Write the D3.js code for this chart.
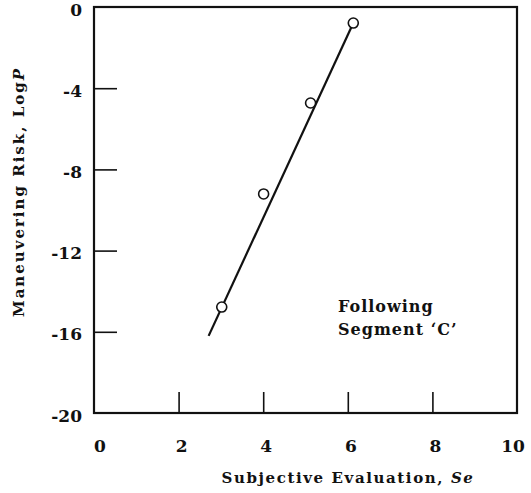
<!DOCTYPE html>
<html>
<head>
<meta charset="utf-8">
<script src="https://cdn.jsdelivr.net/npm/d3@7/dist/d3.min.js"></script>
<style>
  html, body { margin: 0; padding: 0; background: #fff; }
  svg { display: block; }
  text { font-family: "DejaVu Serif", "Liberation Serif", serif; font-weight: bold; fill: #111; }
</style>
</head>
<body>
<svg id="chart" width="531" height="493"></svg>
<script>
// Data
const seValues   = [6.13, 5.12, 4.01, 3.02];      // Subjective Evaluation, Se
const logPValues = [-0.79, -4.73, -9.21, -14.78]; // Maneuvering Risk, LogP
const fitLineSe   = [2.71, 6.13];
const fitLineLogP = [-16.2, -0.79];
const xTicks = [0, 2, 4, 6, 8, 10];
const yTicks = [0, -4, -8, -12, -16, -20];
const xTickLabels = ["0", "2", "4", "6", "8", "10"];
const yTickLabels = ["0", "-4", "-8", "-12", "-16", "-20"];

const svg = d3.select("#chart");
const x = d3.scaleLinear().domain([0, 10]).range([94, 517]);
const y = d3.scaleLinear().domain([-20, 0]).range([413, 7]);

// Frame
svg.append("rect")
  .attr("x", x(0)).attr("y", y(0))
  .attr("width", x(10) - x(0)).attr("height", y(-20) - y(0))
  .attr("fill", "none").attr("stroke", "#111").attr("stroke-width", 2.2);

// Y ticks (inward)
const yAxis = d3.axisRight(y).tickValues(yTicks.slice(1, 5)).tickSize(23).tickFormat("");
svg.append("g").attr("transform", `translate(${x(0)},0)`).call(yAxis)
  .call(g => g.select(".domain").remove())
  .call(g => g.selectAll("line").attr("stroke", "#111").attr("stroke-width", 1.6));

// X ticks (inward, upward)
const xAxis = d3.axisTop(x).tickValues(xTicks.slice(1, 5)).tickSize(21).tickFormat("");
svg.append("g").attr("transform", `translate(0,${y(-20)})`).call(xAxis)
  .call(g => g.select(".domain").remove())
  .call(g => g.selectAll("line").attr("stroke", "#111").attr("stroke-width", 1.6));

// Y tick labels
svg.append("g").selectAll("text").data(yTicks).join("text")
  .attr("x", 82).attr("y", d => y(d) + 4)
  .attr("text-anchor", "end").attr("dominant-baseline", "middle")
  .attr("font-size", 17)
  .text((d, i) => yTickLabels[i]);

// X tick labels
svg.append("g").selectAll("text").data(xTicks).join("text")
  .attr("x", (d, i) => x(d) + (i === 0 ? 6 : (i === 5 ? -4 : 3)))
  .attr("y", 452)
  .attr("text-anchor", "middle")
  .attr("font-size", 17)
  .text((d, i) => xTickLabels[i]);

// Axis titles
const xt = svg.append("text").attr("x", 348).attr("y", 483)
  .attr("text-anchor", "middle").attr("font-size", 15).attr("letter-spacing", 1.6);
xt.append("tspan").text("Subjective Evaluation, ");
xt.append("tspan").attr("font-style", "italic").text("Se");

const yt = svg.append("text")
  .attr("transform", "translate(24,192) rotate(-90)")
  .attr("text-anchor", "middle").attr("font-size", 15).attr("letter-spacing", 2);
yt.append("tspan").text("Maneuvering Risk, Log");
yt.append("tspan").attr("font-style", "italic").text("P");

// Fit line
const line = d3.line().x(d => x(d[0])).y(d => y(d[1]));
svg.append("path")
  .datum(fitLineSe.map((s, i) => [s, fitLineLogP[i]]))
  .attr("d", line).attr("fill", "none").attr("stroke", "#111").attr("stroke-width", 2.2);

// Points
svg.append("g").selectAll("circle").data(seValues.map((s, i) => [s, logPValues[i]])).join("circle")
  .attr("cx", d => x(d[0])).attr("cy", d => y(d[1])).attr("r", 5)
  .attr("fill", "#fff").attr("stroke", "#111").attr("stroke-width", 1.6);

// Annotation
svg.append("text").attr("x", 338).attr("y", 312).attr("font-size", 16).attr("letter-spacing", 1).text("Following");
svg.append("text").attr("x", 338).attr("y", 335).attr("font-size", 16).attr("letter-spacing", 1).text("Segment \u2018C\u2019");
</script>
</body>
</html>
